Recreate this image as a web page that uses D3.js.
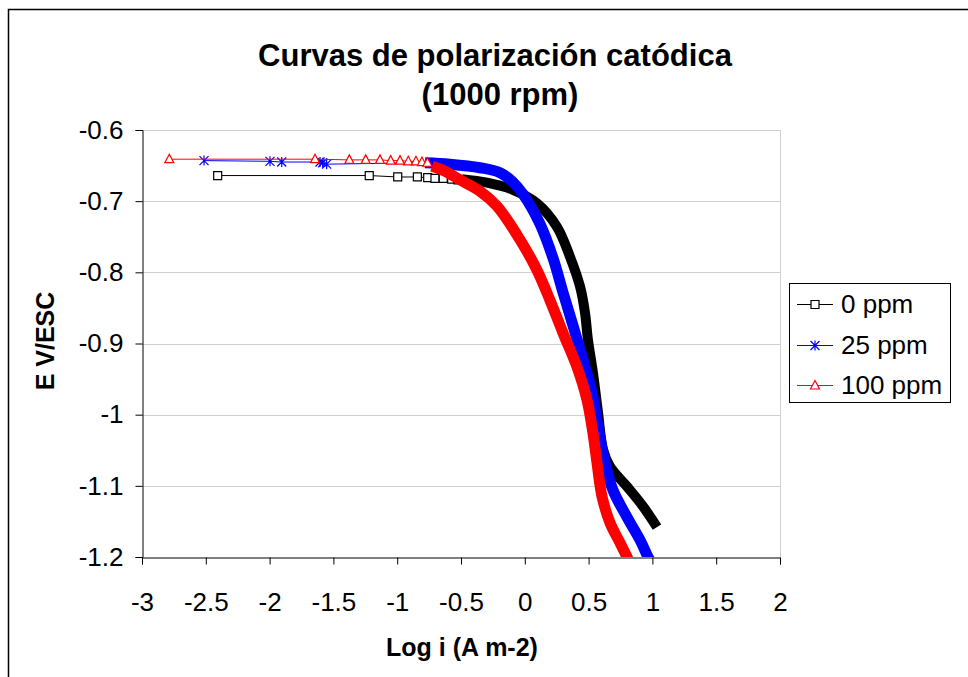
<!DOCTYPE html>
<html>
<head>
<meta charset="utf-8">
<style>
body { margin: 0; background: #fff; }
text { font-family: "Liberation Sans", Arial, sans-serif; fill: #000; }
.grid line { stroke: #d0d0d0; }
</style>
<script src="https://cdn.jsdelivr.net/npm/d3@7"></script>
</head>
<body>
<svg width="968" height="677"></svg>
<script>

/*series names and colours*/
var seriesNames = ["0 ppm", "25 ppm", "100 ppm"];
var seriesColors = ["#000000", "#0000ff", "#ff0000"];

/*x ticks (log i) and y ticks (E V/ESC)*/
var xTicks = [-3, -2.5, -2, -1.5, -1, -0.5, 0, 0.5, 1, 1.5, 2];
var yTicks = [-0.6, -0.7, -0.8, -0.9, -1, -1.1, -1.2];

/*0 ppm : separate markers on the plateau, then the dense part [log i, E]*/
var ppm0Markers = [[-2.407, -0.664], [-1.219, -0.664], [-0.996, -0.666], [-0.842, -0.666],
  [-0.761, -0.667], [-0.704, -0.668], [-0.639, -0.668], [-0.573, -0.669], [-0.524, -0.670]];
var ppm0Band = [[-0.492, -0.669], [-0.296, -0.674], [-0.093, -0.684], [0.096, -0.703],
  [0.252, -0.736], [0.354, -0.778], [0.433, -0.820], [0.472, -0.857], [0.495, -0.895],
  [0.534, -0.941], [0.574, -0.997], [0.613, -1.049], [0.668, -1.073], [0.801, -1.101],
  [0.927, -1.129], [1.036, -1.158]];

/*25 ppm*/
var ppm25Markers = [[-2.514, -0.643], [-1.997, -0.644], [-1.905, -0.645], [-1.605, -0.645],
  [-1.584, -0.646], [-1.553, -0.648]];
var ppm25Band = [[-0.782, -0.646], [-0.586, -0.648], [-0.351, -0.653], [-0.194, -0.660],
  [-0.100, -0.672], [-0.014, -0.690], [0.119, -0.732], [0.221, -0.780], [0.299, -0.828],
  [0.378, -0.875], [0.456, -0.923], [0.527, -0.969], [0.574, -1.017], [0.629, -1.068],
  [0.691, -1.106], [0.801, -1.144], [0.903, -1.176], [0.966, -1.200], [0.989, -1.207]];

/*100 ppm*/
var ppm100Markers = [[-2.786, -0.641], [-1.644, -0.641], [-1.375, -0.642], [-1.247, -0.642],
  [-1.135, -0.642], [-1.051, -0.643], [-0.978, -0.643], [-0.913, -0.644], [-0.853, -0.644],
  [-0.806, -0.645], [-0.763, -0.646]];
var ppm100Band = [[-0.727, -0.651], [-0.625, -0.658], [-0.508, -0.670], [-0.351, -0.686],
  [-0.218, -0.707], [-0.038, -0.754], [0.096, -0.797], [0.197, -0.839], [0.299, -0.885],
  [0.409, -0.933], [0.487, -0.979], [0.534, -1.026], [0.566, -1.068], [0.605, -1.115],
  [0.668, -1.152], [0.746, -1.180], [0.801, -1.200], [0.824, -1.208]];

var svg = d3.select("svg");

/*plot area*/
var pLeft = 142, pRight = 780, pTop = 130, pBottom = 557;

var x = d3.scaleLinear().domain([-3, 2]).range([pLeft, pRight]);
var y = d3.scaleLinear().domain([-0.6, -1.2]).range([pTop, pBottom]);

/*outer frame*/
svg.append("rect")
    .attr("x", 8.5).attr("y", 9.5)
    .attr("width", 1000).attr("height", 700)
    .attr("fill", "#fff").attr("stroke", "#000").attr("stroke-width", 1.5);

/*grid lines*/
svg.append("g").attr("class", "grid")
  .selectAll("line").data(yTicks.slice(0, -1))
  .enter().append("line")
    .attr("x1", pLeft).attr("x2", pRight)
    .attr("y1", function(d) { return Math.round(y(d)) + 0.5; })
    .attr("y2", function(d) { return Math.round(y(d)) + 0.5; });
svg.append("line")
    .attr("x1", pRight + 0.5).attr("x2", pRight + 0.5)
    .attr("y1", pTop).attr("y2", pBottom)
    .attr("stroke", "#d0d0d0");

/*axes*/
var xAxis = d3.axisBottom(x).tickValues(xTicks).tickSize(7).tickPadding(24)
    .tickFormat(function(d) { return String(d); });
var yAxis = d3.axisLeft(y).tickValues(yTicks).tickSize(7).tickPadding(12)
    .tickFormat(function(d) { return String(d); });

var gx = svg.append("g").attr("transform", "translate(0," + (pBottom + 0.5) + ")").call(xAxis);
var gy = svg.append("g").attr("transform", "translate(" + (pLeft + 0.5) + ",0)").call(yAxis);
[gx, gy].forEach(function(g) {
  g.select(".domain").attr("stroke", "#000");
  g.selectAll(".tick line").attr("stroke", "#000");
  g.selectAll(".tick text").style("font-size", "26px").attr("fill", "#000");
});
gx.selectAll(".tick text").attr("dy", "0.85em");

/*clip to plot area*/
svg.append("clipPath").attr("id", "plot")
  .append("rect").attr("x", pLeft).attr("y", pTop - 10)
    .attr("width", pRight - pLeft).attr("height", pBottom - pTop + 10);

var line = d3.line()
    .x(function(d) { return x(d[0]); })
    .y(function(d) { return y(d[1]); });
var smooth = d3.line()
    .curve(d3.curveCatmullRom.alpha(0.5))
    .x(function(d) { return x(d[0]); })
    .y(function(d) { return y(d[1]); });

var series = [
  { markers: ppm0Markers, band: ppm0Band, width: 10, shape: "square" },
  { markers: ppm25Markers, band: ppm25Band, width: 11, shape: "star" },
  { markers: ppm100Markers, band: ppm100Band, width: 11, shape: "triangle" }
];

function markerPath(shape) {
  if (shape == "square") return "M-4,-4H4V4H-4Z";
  if (shape == "star") return "M0,-5V5M-4.5,-4.5L4.5,4.5M-4.5,4.5L4.5,-4.5";
  return "M0,-5L4.5,3.5H-4.5Z";
}

var plot = svg.append("g").attr("clip-path", "url(#plot)");

series.forEach(function(s, i) {
  var g = plot.append("g");
  /*thin connecting line*/
  g.append("path")
      .attr("d", line(s.markers.concat([s.band[0]])))
      .attr("fill", "none").attr("stroke", seriesColors[i]).attr("stroke-width", 1);
  /*the dense run of markers looks like a thick band*/
  g.append("path")
      .attr("d", smooth(s.band))
      .attr("fill", "none").attr("stroke", seriesColors[i])
      .attr("stroke-width", s.width)
      .attr("stroke-linejoin", "round");
  g.selectAll(".m").data(s.markers)
    .enter().append("path")
      .attr("transform", function(d) { return "translate(" + x(d[0]) + "," + y(d[1]) + ")"; })
      .attr("d", markerPath(s.shape))
      .attr("fill", s.shape == "star" ? "none" : "#fff")
      .attr("stroke", seriesColors[i]).attr("stroke-width", 1.2);
});

/*legend*/
var legend = svg.append("g");
legend.append("rect")
    .attr("x", 789.5).attr("y", 283.5).attr("width", 161).attr("height", 119)
    .attr("fill", "#fff").attr("stroke", "#000");
var legendY = [304, 345, 385];
seriesNames.forEach(function(name, i) {
  var ly = legendY[i];
  legend.append("line")
      .attr("x1", 797).attr("x2", 833).attr("y1", ly + 0.5).attr("y2", ly + 0.5)
      .attr("stroke", seriesColors[i]).attr("stroke-width", 1);
  legend.append("path")
      .attr("transform", "translate(815," + (ly + 0.5) + ")")
      .attr("d", markerPath(series[i].shape))
      .attr("fill", series[i].shape == "star" ? "none" : "#fff")
      .attr("stroke", seriesColors[i]).attr("stroke-width", 1.2);
  legend.append("text")
      .attr("x", 841).attr("y", ly + 9)
      .style("font-size", "26px")
      .text(name);
});

/*titles*/
svg.append("text").attr("x", 495).attr("y", 66)
    .attr("text-anchor", "middle").style("font-size", "31px").style("font-weight", "bold")
    .text("Curvas de polarización catódica");
svg.append("text").attr("x", 500).attr("y", 105)
    .attr("text-anchor", "middle").style("font-size", "31px").style("font-weight", "bold")
    .text("(1000 rpm)");
svg.append("text").attr("x", 462).attr("y", 656)
    .attr("text-anchor", "middle").style("font-size", "25px").style("font-weight", "bold")
    .text("Log i (A m-2)");
svg.append("text")
    .attr("transform", "translate(54,341) rotate(-90)")
    .attr("text-anchor", "middle").style("font-size", "25px").style("font-weight", "bold")
    .text("E V/ESC");

</script>
</body>
</html>
